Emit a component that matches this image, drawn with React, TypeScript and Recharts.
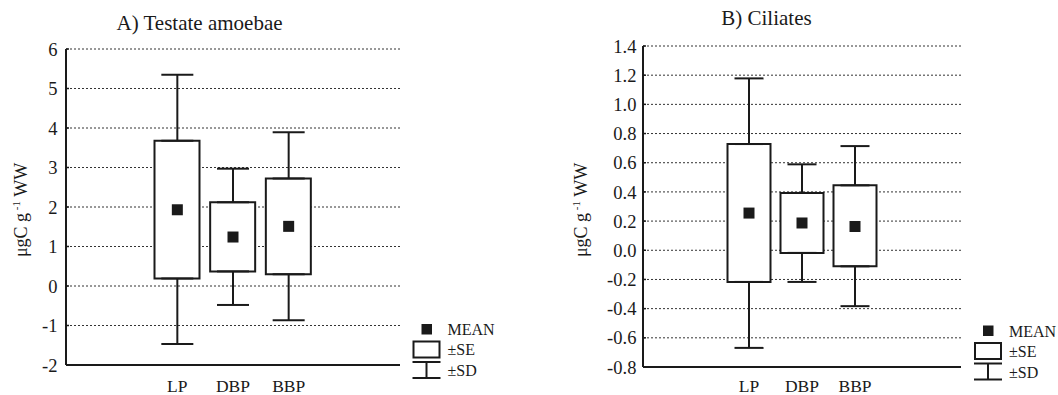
import React from "react";
import { ComposedChart, Bar, Scatter, ErrorBar, XAxis, YAxis, CartesianGrid } from "recharts";

// ---------- data ----------
const categories = ["LP", "DBP", "BBP"];

// A) Testate amoebae
const amoebaeMean = [1.93, 1.24, 1.51];
const amoebaeSeLow = [0.19, 0.37, 0.3];
const amoebaeSeHigh = [3.68, 2.12, 2.72];
const amoebaeSdLow = [-1.47, -0.48, -0.87];
const amoebaeSdHigh = [5.35, 2.97, 3.89];
const amoebaeTicks = [-2, -1, 0, 1, 2, 3, 4, 5, 6];

// B) Ciliates
const ciliatesMean = [0.255, 0.187, 0.163];
const ciliatesSeLow = [-0.217, -0.018, -0.11];
const ciliatesSeHigh = [0.728, 0.393, 0.445];
const ciliatesSdLow = [-0.669, -0.217, -0.383];
const ciliatesSdHigh = [1.178, 0.589, 0.714];
const ciliatesTicks = [-0.8, -0.6, -0.4, -0.2, 0, 0.2, 0.4, 0.6, 0.8, 1.0, 1.2, 1.4];

const frameSlots = [1, 2, 3, 4, 5];
const titles = ["A) Testate amoebae", "B) Ciliates"];
const legendLabels = ["MEAN", "±SE", "±SD"];

// ---------- styling ----------
const FONT = "'Liberation Serif', 'Times New Roman', Times, serif";
const INK = "#1a1a1a";

function buildRows(mean: number[], seLow: number[], seHigh: number[], sdLow: number[], sdHigh: number[]) {
  return categories.map((c, i) => ({
    cat: c,
    mean: mean[i],
    se: [seLow[i], seHigh[i]],
    seLow: seLow[i],
    seHigh: seHigh[i],
    upErr: [0, sdHigh[i] - seHigh[i]],
    loErr: [seLow[i] - sdLow[i], 0],
  }));
}

const amoebaeRows = buildRows(amoebaeMean, amoebaeSeLow, amoebaeSeHigh, amoebaeSdLow, amoebaeSdHigh);
const ciliatesRows = buildRows(ciliatesMean, ciliatesSeLow, ciliatesSeHigh, ciliatesSdLow, ciliatesSdHigh);

const Nothing = () => <g />;
const MeanSquare = (props: any) => {
  const { cx, cy } = props;
  if (cx == null || cy == null) return <g />;
  return <rect x={cx - 5.5} y={cy - 5.5} width={11} height={11} fill={INK} />;
};

const makeYTick = (fmt: (v: number) => string) => (props: any) => {
  const { x, y, payload } = props;
  return (
    <text
      x={x}
      y={y}
      dy="0.36em"
      textAnchor="end"
      fill={INK}
      style={{ fontFamily: FONT, fontSize: 18.5 }}
    >
      {fmt(payload.value)}
    </text>
  );
};

const XTick = (props: any) => {
  const { x, y, payload } = props;
  return (
    <text
      x={x}
      y={y}
      dy="0.71em"
      textAnchor="middle"
      fill={INK}
      style={{ fontFamily: FONT, fontSize: 17.5 }}
    >
      {payload.value}
    </text>
  );
};

type PanelProps = {
  rows: any[];
  ticks: number[];
  fmt: (v: number) => string;
  width: number;
  height: number;
  top: number;
  right: number;
  xAxisHeight: number;
  plotWidth: number;
  capHalf: number;
  boxSize: number;
  yTickMargin: number;
  xTickMargin: number;
};

function Panel(p: PanelProps) {
  const pad = p.plotWidth / 4;
  const domain: [number, number] = [p.ticks[0], p.ticks[p.ticks.length - 1]];
  return (
    <ComposedChart
      width={p.width}
      height={p.height}
      data={p.rows}
      margin={{ top: p.top, right: p.right, bottom: 0, left: 0 }}
    >
      <CartesianGrid horizontal vertical={false} stroke="#333" strokeDasharray="2 2" />
      <XAxis
        xAxisId="frameBottom"
        type="number"
        domain={[0, 6]}
        ticks={frameSlots}
        allowDataOverflow
        orientation="bottom"
        height={0}
        axisLine={false}
        tick={false}
        tickSize={-3}
        tickLine={{ stroke: INK, strokeWidth: 1.5 }}
      />
      <XAxis
        dataKey="cat"
        height={p.xAxisHeight}
        padding={{ left: pad, right: pad }}
        interval={0}
        tickSize={0}
        tickMargin={p.xTickMargin}
        tickLine={false}
        axisLine={{ stroke: INK, strokeWidth: 2 }}
        tick={XTick}
      />
      <XAxis
        xAxisId="frameTop"
        type="number"
        domain={[0, 6]}
        ticks={frameSlots}
        allowDataOverflow
        orientation="top"
        height={0}
        tick={false}
        tickSize={-3}
        tickLine={{ stroke: INK, strokeWidth: 1.5 }}
        axisLine={{ stroke: INK, strokeWidth: 2 }}
      />
      <YAxis
        domain={domain}
        ticks={p.ticks}
        interval={0}
        allowDataOverflow
        width={66}
        tickFormatter={p.fmt}
        tickSize={-3}
        tickMargin={p.yTickMargin}
        tickLine={{ stroke: INK, strokeWidth: 1.5 }}
        axisLine={{ stroke: INK, strokeWidth: 2 }}
        tick={makeYTick(p.fmt)}
      />
      <YAxis
        yAxisId="frameRight"
        orientation="right"
        domain={domain}
        ticks={p.ticks}
        interval={0}
        allowDataOverflow
        width={0}
        tick={false}
        tickSize={-3}
        tickLine={{ stroke: INK, strokeWidth: 1.5 }}
        axisLine={{ stroke: INK, strokeWidth: 2 }}
      />
      <Scatter dataKey="seHigh" shape={Nothing} isAnimationActive={false}>
        <ErrorBar dataKey="upErr" direction="y" width={p.capHalf} stroke={INK} strokeWidth={2} isAnimationActive={false} />
      </Scatter>
      <Scatter dataKey="seLow" shape={Nothing} isAnimationActive={false}>
        <ErrorBar dataKey="loErr" direction="y" width={p.capHalf} stroke={INK} strokeWidth={2} isAnimationActive={false} />
      </Scatter>
      <Bar dataKey="se" barSize={p.boxSize} fill="#fff" stroke={INK} strokeWidth={2} isAnimationActive={false} />
      <Scatter dataKey="mean" shape={MeanSquare} isAnimationActive={false} />
    </ComposedChart>
  );
}

function Legend({ x, y }: { x: number; y: number }) {
  // x: left edge of the symbols, y: top of the mean square
  return (
    <g style={{ fontFamily: FONT, fontSize: 16 }} fill={INK}>
      <rect x={x + 9} y={y} width={10.5} height={10.5} fill={INK} />
      <text x={x + 35} y={y + 11}>{legendLabels[0]}</text>
      <rect x={x + 1} y={y + 17.5} width={26} height={16} fill="#fff" stroke={INK} strokeWidth={2} />
      <text x={x + 35} y={y + 31}>{legendLabels[1]}</text>
      <line x1={x} x2={x + 28} y1={y + 38} y2={y + 38} stroke={INK} strokeWidth={2} />
      <line x1={x + 14} x2={x + 14} y1={y + 38} y2={y + 54} stroke={INK} strokeWidth={2} />
      <line x1={x} x2={x + 28} y1={y + 54} y2={y + 54} stroke={INK} strokeWidth={2} />
      <text x={x + 35} y={y + 52}>{legendLabels[2]}</text>
    </g>
  );
}

function YLabel({ x, cy }: { x: number; cy: number }) {
  return (
    <text
      transform="rotate(-90)"
      x={-cy}
      y={x}
      textAnchor="middle"
      fill={INK}
      style={{ fontFamily: FONT, fontSize: 18 }}
    >
      μgC g
      <tspan dy={-7} style={{ fontSize: 11 }}> -1</tspan>
      <tspan dy={7}> WW</tspan>
    </text>
  );
}

export default function App() {
  return (
    <div style={{ position: "absolute", left: 0, top: 0, width: 1058, height: 395, background: "#fff" }}>
      <div style={{ position: "absolute", left: 0, top: 0 }}>
        <Panel
          rows={amoebaeRows}
          ticks={amoebaeTicks}
          fmt={(v) => String(v)}
          width={420}
          height={395}
          top={49}
          right={20}
          xAxisHeight={30}
          plotWidth={334}
          capHalf={16}
          boxSize={45}
          yTickMargin={11.5}
          xTickMargin={14.6}
        />
      </div>
      <div style={{ position: "absolute", left: 577, top: 0 }}>
        <Panel
          rows={ciliatesRows}
          ticks={ciliatesTicks}
          fmt={(v) => v.toFixed(1)}
          width={400}
          height={395}
          top={46}
          right={16}
          xAxisHeight={28}
          plotWidth={318}
          capHalf={14.5}
          boxSize={43}
          yTickMargin={9.6}
          xTickMargin={12.6}
        />
      </div>
      <svg
        width={1058}
        height={395}
        style={{ position: "absolute", left: 0, top: 0, pointerEvents: "none" }}
      >
        <text x={199.5} y={29.5} textAnchor="middle" fill={INK} style={{ fontFamily: FONT, fontSize: 21 }}>
          {titles[0]}
        </text>
        <text x={766.5} y={25} textAnchor="middle" fill={INK} style={{ fontFamily: FONT, fontSize: 21 }}>
          {titles[1]}
        </text>
        <YLabel x={27} cy={210} />
        <YLabel x={587} cy={210} />
        <Legend x={412.5} y={324} />
        <Legend x={974} y={325.5} />
      </svg>
    </div>
  );
}
